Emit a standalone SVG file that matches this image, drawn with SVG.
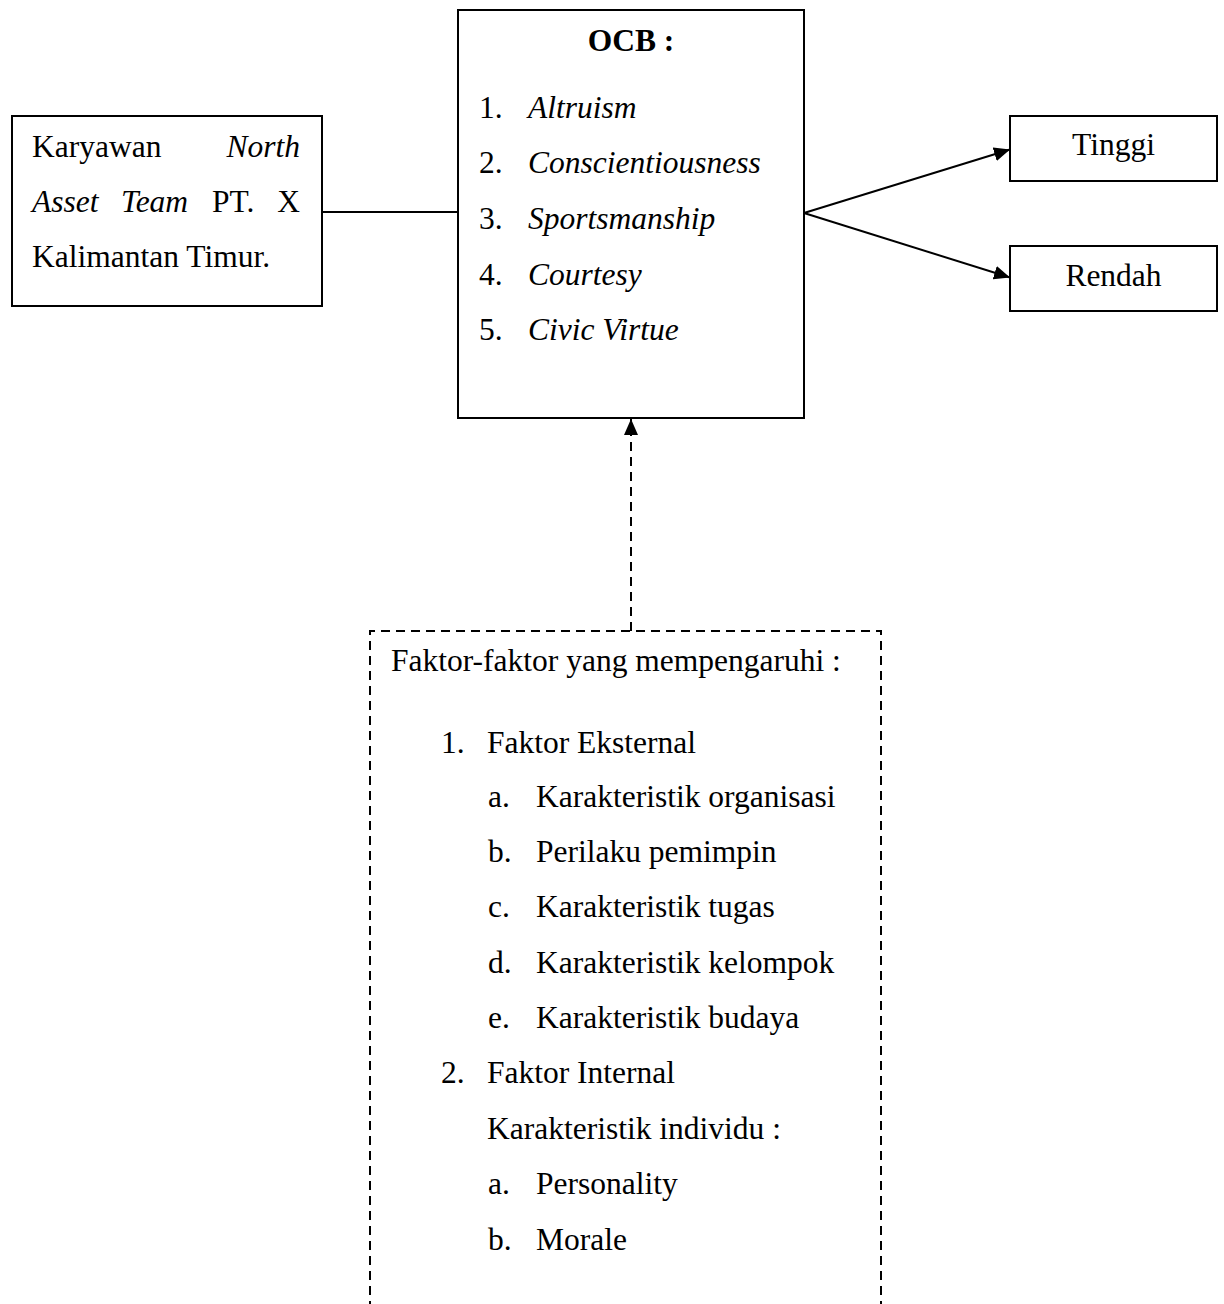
<svg xmlns="http://www.w3.org/2000/svg" width="1224" height="1304" viewBox="0 0 1224 1304">
<style>
  text { font-family: "Liberation Serif", "Times New Roman", serif; font-size: 31.5px; fill: #000; }
  .i { font-style: italic; }
  .b { font-weight: bold; }
  .box { fill: #fff; stroke: #000; stroke-width: 2; }
  .dbox { fill: none; stroke: #000; stroke-width: 2; stroke-dasharray: 9 6; }
  .conn { fill: none; stroke: #000; stroke-width: 2; }
  .dash { stroke-dasharray: 9 6; }
</style>
<defs>
  <marker id="ah" viewBox="0 0 16 14" refX="16" refY="7" markerWidth="16" markerHeight="14" markerUnits="userSpaceOnUse" orient="auto">
    <path d="M0,0 L16,7 L0,14 Z" fill="#000"/>
  </marker>
</defs>
<rect width="1224" height="1304" fill="#fff"/>

<g id="connectors">
  <line class="conn" x1="322" y1="212" x2="458" y2="212"/>
  <line class="conn" x1="804" y1="213" x2="1010" y2="149.5" marker-end="url(#ah)"/>
  <line class="conn" x1="804" y1="213" x2="1010" y2="277.5" marker-end="url(#ah)"/>
  <line class="conn dash" x1="631" y1="631" x2="631" y2="419" marker-end="url(#ah)"/>
</g>

<g id="node-karyawan">
  <rect class="box" x="12" y="116" width="310" height="190"/>
  <text x="32" y="157">Karyawan</text>
  <text class="i" x="300" y="157" text-anchor="end">North</text>
  <text class="i" x="32" y="212">Asset</text>
  <text class="i" x="121" y="212">Team</text>
  <text x="212" y="212">PT.</text>
  <text x="300" y="212" text-anchor="end">X</text>
  <text x="32" y="267">Kalimantan Timur.</text>
</g>

<g id="node-ocb">
  <rect class="box" x="458" y="10" width="346" height="408"/>
  <text class="b" x="631" y="51" text-anchor="middle">OCB :</text>
  <text x="479" y="118">1.</text><text class="i" x="528" y="118">Altruism</text>
  <text x="479" y="173">2.</text><text class="i" x="528" y="173">Conscientiousness</text>
  <text x="479" y="229">3.</text><text class="i" x="528" y="229">Sportsmanship</text>
  <text x="479" y="285">4.</text><text class="i" x="528" y="285">Courtesy</text>
  <text x="479" y="340">5.</text><text class="i" x="528" y="340">Civic Virtue</text>
</g>

<g id="node-tinggi">
  <rect class="box" x="1010" y="116" width="207" height="65"/>
  <text x="1113.5" y="155" text-anchor="middle">Tinggi</text>
</g>

<g id="node-rendah">
  <rect class="box" x="1010" y="246" width="207" height="65"/>
  <text x="1113.5" y="286" text-anchor="middle">Rendah</text>
</g>

<g id="node-faktor">
  <path class="dbox" d="M370,1310 V631 H881 V1310"/>
  <text x="391" y="671">Faktor-faktor yang mempengaruhi :</text>
  <text x="441" y="753">1.</text><text x="487" y="753">Faktor Eksternal</text>
  <text x="488" y="807">a.</text><text x="536" y="807">Karakteristik organisasi</text>
  <text x="488" y="862">b.</text><text x="536" y="862">Perilaku pemimpin</text>
  <text x="488" y="917">c.</text><text x="536" y="917">Karakteristik tugas</text>
  <text x="488" y="973">d.</text><text x="536" y="973">Karakteristik kelompok</text>
  <text x="488" y="1028">e.</text><text x="536" y="1028">Karakteristik budaya</text>
  <text x="441" y="1083">2.</text><text x="487" y="1083">Faktor Internal</text>
  <text x="487" y="1139">Karakteristik individu :</text>
  <text x="488" y="1194">a.</text><text x="536" y="1194">Personality</text>
  <text x="488" y="1250">b.</text><text x="536" y="1250">Morale</text>
</g>
</svg>
